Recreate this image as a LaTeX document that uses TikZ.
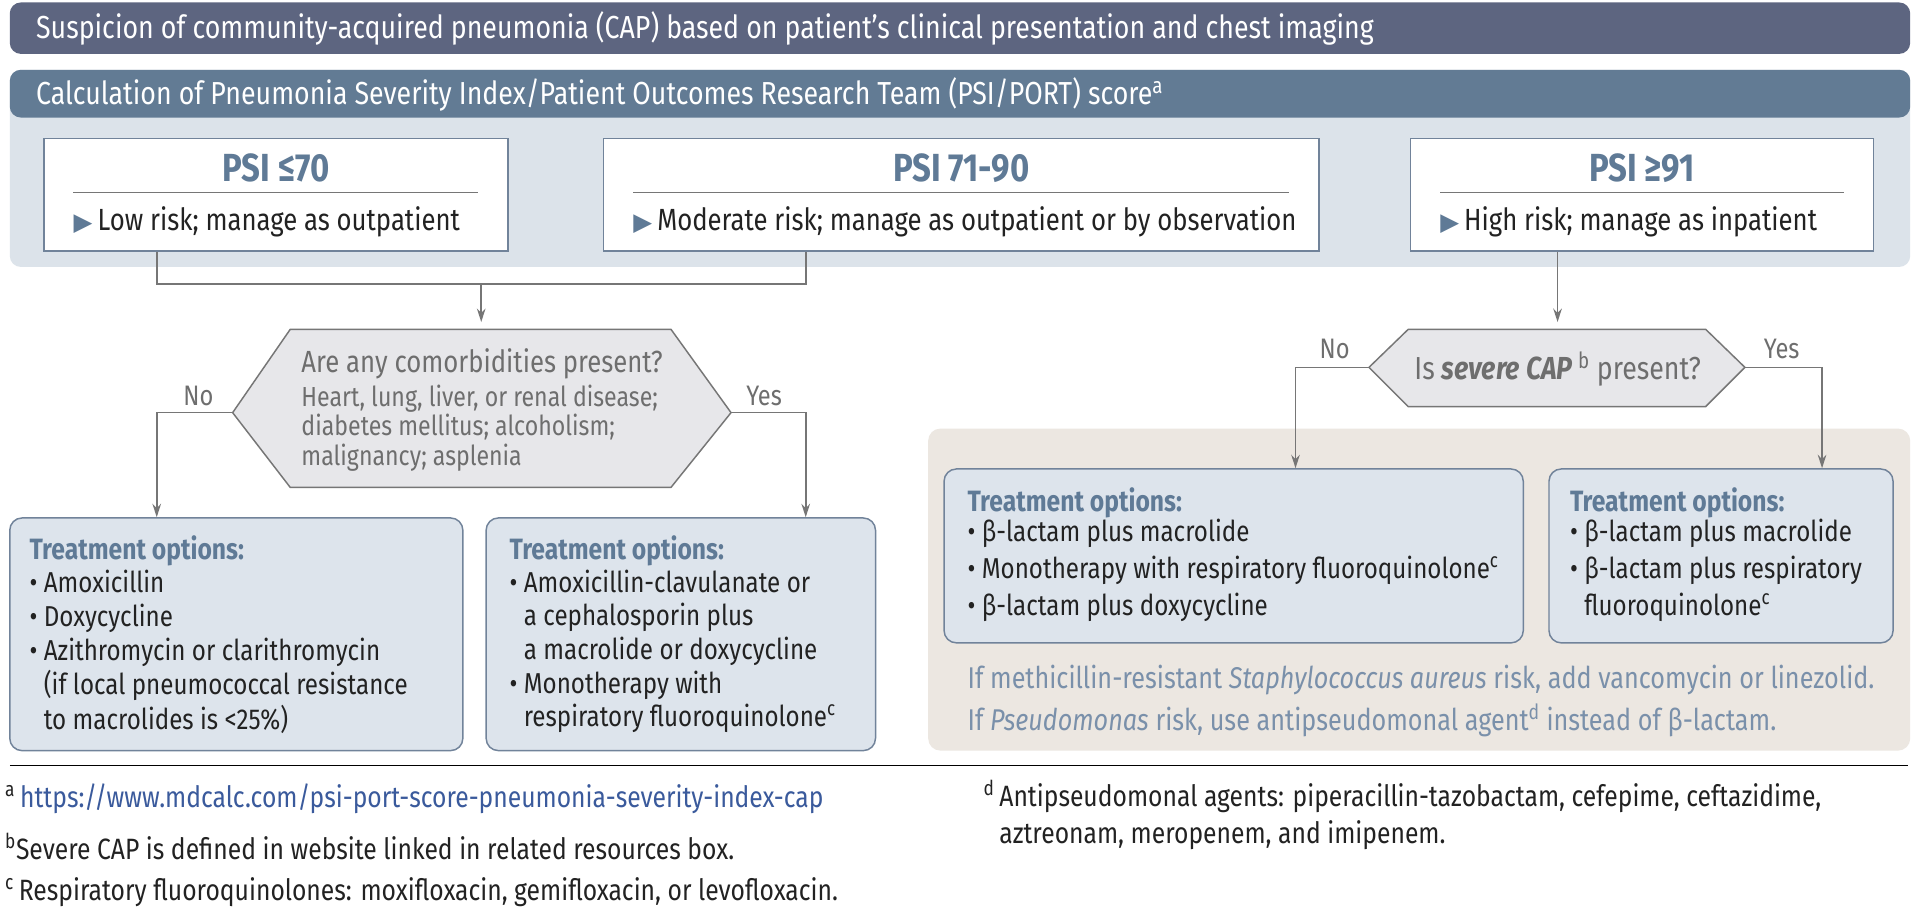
\documentclass[tikz,border=0pt]{standalone}
\usepackage{fontspec}
\setmainfont{Fira Sans}[FakeStretch=0.84]
\newfontfamily\symf{DejaVu Sans}
\usetikzlibrary{arrows.meta}
\definecolor{cDark}{HTML}{5D6580}
\definecolor{cHead}{HTML}{627B94}
\definecolor{cLight}{HTML}{DCE3EA}
\definecolor{cTitle}{HTML}{5F7A96}
\definecolor{cBoxF}{HTML}{DDE4EC}
\definecolor{cBoxD}{HTML}{71839A}
\definecolor{cBeige}{HTML}{ECE7E1}
\definecolor{cHexF}{HTML}{E7E7EA}
\definecolor{cGrayL}{HTML}{767676}
\definecolor{cTxt}{HTML}{222222}
\definecolor{cSub}{HTML}{6E6E6E}
\definecolor{cBlueT}{HTML}{7A90AA}
\definecolor{cLink}{HTML}{3A5A9C}
\newcommand{\fs}[2]{\fontsize{#1}{#2}\selectfont}
\newcommand{\tri}{{\color{cTitle}\symf\fontsize{20}{20}\selectfont ▶}\,}
\tikzset{
  psibox/.style={draw=cBoxD,line width=1.2pt,fill=white,inner sep=0pt},
  tbox/.style={draw=cBoxD,line width=1.2pt,fill=cBoxF,rounded corners=10pt,inner sep=0pt},
  hexs/.style={draw=cGrayL,line width=1.2pt,fill=cHexF},
  conn/.style={draw=cGrayL,line width=1.3pt},
  arr/.style={conn,-{Stealth[length=11pt,width=7pt]}},
  lbl/.style={text=cSub,font=\fs{23}{26}},
  txt/.style={anchor=north west,align=left,inner sep=0pt,text=cTxt},
}
\begin{document}
\begin{tikzpicture}[x=1pt,y=-1pt]
\useasboundingbox[fill=white] (0,0) rectangle (1568,751);
% title bars
\node[fill=cDark,rounded corners=9pt,minimum width=1552pt,minimum height=42pt,inner sep=0pt] (top) at (784,23) {};
\node[anchor=west,text=white,font=\fs{26}{30}] (toptxt) at (26,23) {Suspicion of community-acquired pneumonia (CAP) based on patient’s clinical presentation and chest imaging};
\node[fill=cLight,rounded corners=9pt,minimum width=1552pt,minimum height=161pt,inner sep=0pt] (calc) at (784,137.5) {};
\path[fill=cHead,rounded corners=9pt] (8,96) -- (8,57) -- (1560,57) -- (1560,96) -- cycle;
\node[anchor=west,text=white,font=\fs{26}{30}] (calctxt) at (26,77) {Calculation of Pneumonia Severity Index/Patient Outcomes Research Team (PSI/PORT) score\textsuperscript{a}};
% PSI boxes
\node[psibox,minimum width=379pt,minimum height=92pt] (p1) at (225.5,159) {};
\node[psibox,minimum width=584pt,minimum height=92pt] (p2) at (785,159) {};
\node[psibox,minimum width=378pt,minimum height=92pt] (p3) at (1341,159) {};
\node[text=cTitle,font=\bfseries\fs{32}{34}] (p1t) at (225.5,137) {PSI ≤70};
\node[text=cTitle,font=\bfseries\fs{32}{34}] (p2t) at (785,137) {PSI 71-90};
\node[text=cTitle,font=\bfseries\fs{32}{34}] (p3t) at (1341,137) {PSI ≥91};
\draw[cGrayL,line width=1.2pt] (60,157) -- (390,157) (517,157) -- (1053,157) (1176,157) -- (1506,157);
\node[anchor=west,inner sep=0pt,font=\fs{25}{28},text=cTxt] (p1s) at (60,181) {\tri Low risk; manage as outpatient};
\node[anchor=west,inner sep=0pt,font=\fs{25}{28},text=cTxt] (p2s) at (517,181) {\tri Moderate risk; manage as outpatient or by observation};
\node[anchor=west,inner sep=0pt,font=\fs{25}{28},text=cTxt] (p3s) at (1176,181) {\tri High risk; manage as inpatient};
% connectors from PSI boxes
\coordinate (j1) at (393,232);
\draw[conn] (p1.south -| 128,0) -- (128,232) -- (658,232) -- (p2.south -| 658,0);
\draw[arr] (j1) -- (393,263);
% hexagon 1
\coordinate (h1L) at (190,337); \coordinate (h1R) at (597,337);
\draw[hexs] (h1L) -- (237,269) -- (548,269) -- (h1R) -- (548,398) -- (237,398) -- cycle;
\node[anchor=west,inner sep=0pt,text=cSub,font=\fs{25}{28}] (q1) at (246,297) {Are any comorbidities present?};
\node[txt,text=cSub,font=\fs{22.5}{24}] (q1s) at (246,314) {Heart, lung, liver, or renal disease;\\diabetes mellitus; alcoholism;\\malignancy; asplenia};
% treatment boxes left
\node[tbox,minimum width=370pt,minimum height=190pt] (t1) at (193,518) {};
\node[tbox,minimum width=318pt,minimum height=190pt] (t2) at (556,518) {};
\draw[arr] (h1L) -- (128,337) -- (t1.north -| 128,0);
\draw[arr] (h1R) -- (658,337) -- (t2.north -| 658,0);
\node[lbl] (no1) at (162,323) {No};
\node[lbl] (yes1) at (624,323) {Yes};
\node[txt,text=cTitle,font=\bfseries\fs{24}{26}] (t1h) at (24,437) {Treatment options:};
\node[txt,font=\fs{23.5}{28}] (t1b) at (24,465) {• Amoxicillin\\• Doxycycline\\• Azithromycin or clarithromycin\\\hphantom{• }(if local pneumococcal resistance\\\hphantom{• }to macrolides is <25\%)};
\node[txt,text=cTitle,font=\bfseries\fs{24}{26}] (t2h) at (416,437) {Treatment options:};
\node[txt,font=\fs{23.5}{27.5}] (t2b) at (416,465) {• Amoxicillin-clavulanate or\\\hphantom{• }a cephalosporin plus\\\hphantom{• }a macrolide or doxycycline\\• Monotherapy with\\\hphantom{• }respiratory fluoroquinolone\textsuperscript{c}};
% right side
\node[fill=cBeige,rounded corners=10pt,minimum width=802pt,minimum height=263pt,inner sep=0pt] (beige) at (1159,481.5) {};
\draw[arr] (p3.south -| 1272,0) -- (1272,263);
\coordinate (h2L) at (1118,300); \coordinate (h2R) at (1425,300);
\draw[hexs] (h2L) -- (1150,269) -- (1393,269) -- (h2R) -- (1393,332) -- (1150,332) -- cycle;
\node[text=cSub,font=\fs{26}{28}] (q2) at (1272,301) {Is \textbf{\textit{severe CAP}}\,\textsuperscript{b} present?};
\node[tbox,minimum width=473pt,minimum height=142pt] (t3) at (1007.5,454) {};
\node[tbox,minimum width=281pt,minimum height=142pt] (t4) at (1405.5,454) {};
\draw[arr] (h2L) -- (1058,300) -- (t3.north -| 1058,0);
\draw[arr] (h2R) -- (1488,300) -- (t4.north -| 1488,0);
\node[lbl] (no2) at (1090,285) {No};
\node[lbl] (yes2) at (1455,285) {Yes};
\node[txt,text=cTitle,font=\bfseries\fs{24}{26}] (t3h) at (790,398) {Treatment options:};
\node[txt,font=\fs{23.5}{30}] (t3b) at (790,424) {• β-lactam plus macrolide\\• Monotherapy with respiratory fluoroquinolone\textsuperscript{c}\\• β-lactam plus doxycycline};
\node[txt,text=cTitle,font=\bfseries\fs{24}{26}] (t4h) at (1282,398) {Treatment options:};
\node[txt,font=\fs{23.5}{30}] (t4b) at (1282,424) {• β-lactam plus macrolide\\• β-lactam plus respiratory\\\hphantom{• }fluoroquinolone\textsuperscript{c}};
\node[anchor=west,inner sep=0pt,text=cBlueT,font=\fs{24.5}{28}] (n1) at (790,555) {If methicillin-resistant \textit{Staphylococcus aureus} risk, add vancomycin or linezolid.};
\node[anchor=west,inner sep=0pt,text=cBlueT,font=\fs{24.5}{28}] (n2) at (790,588) {If \textit{Pseudomonas} risk, use antipseudomonal agent\textsuperscript{d} instead of β-lactam.};
% footnotes
\draw[black,line width=1.3pt] (8,625) -- (1558,625);
\node[anchor=west,inner sep=0pt,font=\fs{24}{28},text=cTxt] (fa) at (4,652) {\textsuperscript{a}\,\textcolor{cLink}{https://www.mdcalc.com/psi-port-score-pneumonia-severity-index-cap}};
\node[anchor=west,inner sep=0pt,font=\fs{24}{28},text=cTxt] (fb) at (4,691) {\textsuperscript{b}Severe CAP is defined in website linked in related resources box.};
\node[anchor=west,inner sep=0pt,font=\fs{24}{28},text=cTxt] (fc) at (4,729) {\textsuperscript{c}\,Respiratory fluoroquinolones: moxifloxacin, gemifloxacin, or levofloxacin.};
\node[txt,font=\fs{24}{30}] (fd) at (803,637) {\textsuperscript{d}\,Antipseudomonal agents: piperacillin-tazobactam, cefepime, ceftazidime,\\\hphantom{\textsuperscript{d}\,}aztreonam, meropenem, and imipenem.};
\end{tikzpicture}
\end{document}
